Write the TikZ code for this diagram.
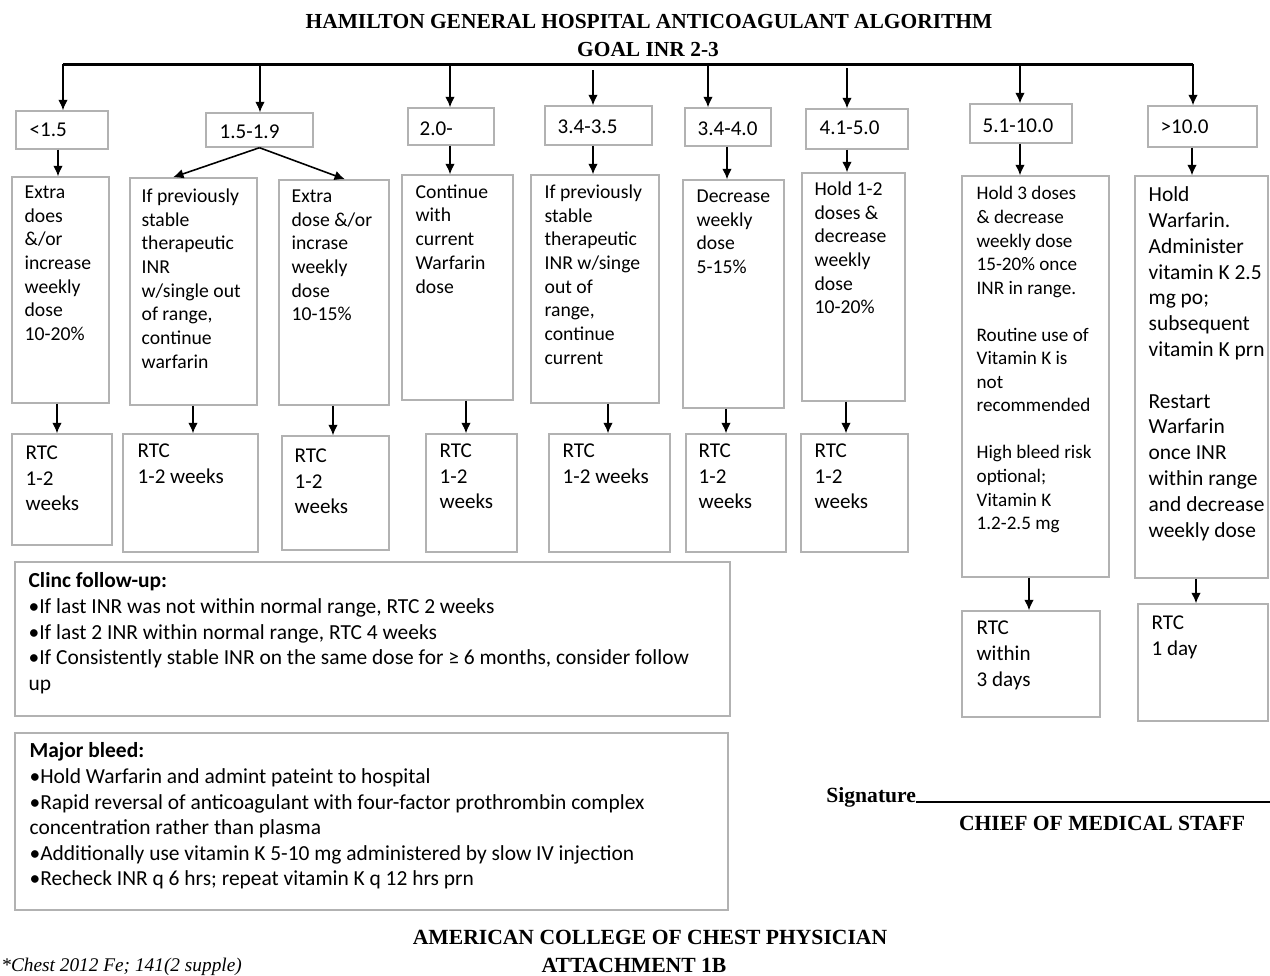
\documentclass[tikz,border=0pt]{standalone}
\usepackage{fontspec}
\setmainfont{Carlito}
\newfontfamily\serifface{Liberation Serif}
\usetikzlibrary{arrows.meta,calc,fit}

\tikzset{
  frame/.style={draw=black!30, line width=0.8pt, inner sep=0pt},
  txt/.style={anchor=north west, inner sep=0pt, align=left, font=\fontsize{11.2}{13.5}\selectfont},
  small/.style={txt, font=\fontsize{10.9}{13.4}\selectfont},
  big/.style={txt, font=\fontsize{12.2}{14.7}\selectfont},
  rtc/.style={txt, font=\fontsize{12}{14.7}\selectfont},
  lbl/.style={anchor=west, inner sep=0pt, font=\fontsize{12}{14}\selectfont},
  note/.style={txt, font=\fontsize{12.2}{14.6}\selectfont},
  head/.style={inner sep=0pt, font=\serifface\bfseries\fontsize{12.2}{15}\selectfont},
  foot/.style={head, font=\serifface\bfseries\fontsize{12.3}{14}\selectfont},
  arr/.style={-{Latex[length=6pt,width=5.5pt]}, line width=0.9pt},
  bus/.style={line width=1.7pt},
}

\begin{document}
\begin{tikzpicture}[x=0.02cm, y=-0.02cm]
    \fill[white] (0,0) rectangle (1270,975);
    \useasboundingbox (0,0) rectangle (1270,975);

    % title
    \node[head] (title) at (649,22) {HAMILTON GENERAL HOSPITAL ANTICOAGULANT ALGORITHM};
    \node[head] (goal) at (648,50) {GOAL INR 2-3};

    % INR ranges
    \node[frame, fit={(16,111) (108,149)}] (h1) {};
    \node[frame, fit={(206,113) (313,147)}] (h2) {};
    \node[frame, fit={(408,108) (494,145)}] (h3) {};
    \node[frame, fit={(545,106) (652,145)}] (h4) {};
    \node[frame, fit={(685,108) (771,146)}] (h5) {};
    \node[frame, fit={(806,109) (908,149)}] (h6) {};
    \node[frame, fit={(970,104) (1072,143)}] (h7) {};
    \node[frame, fit={(1148,106) (1257,147)}] (h8) {};
    \node[lbl] at ($(h1.west)+(14,0)$) {<1.5};
    \node[lbl] at ($(h2.west)+(14,2)$) {1.5-1.9};
    \node[lbl] at ($(h3.west)+(12,2)$) {2.0-};
    \node[lbl] at ($(h4.west)+(13,1)$) {3.4-3.5};
    \node[lbl] at ($(h5.west)+(13,2)$) {3.4-4.0};
    \node[lbl] at ($(h6.west)+(14,-1)$) {4.1-5.0};
    \node[lbl] at ($(h7.west)+(13,2)$) {5.1-10.0};
    \node[lbl] at ($(h8.west)+(13,0)$) {>10.0};

    % actions
    \node[frame, fit={(12,177) (109,403)}] (a1) {};
    \node[frame, fit={(130,178) (257,405)}] (a2) {};
    \node[frame, fit={(279,180) (389,405)}] (a3) {};
    \node[frame, fit={(402,175) (513,400)}] (a4) {};
    \node[frame, fit={(531,175) (659,403)}] (a5) {};
    \node[frame, fit={(683,180) (784,408)}] (a6) {};
    \node[frame, fit={(802,173) (905,401)}] (a7) {};
    \node[frame, fit={(962,176) (1109,577)}] (a8) {};
    \node[frame, fit={(1135,176) (1268,578)}] (a9) {};
    \node[txt] at ($(a1.north west)+(13,9)$) {Extra\\does\\\&/or\\increase\\weekly\\dose\\10-20\%};
    \node[txt] at ($(a2.north west)+(12,11)$) {If previously\\stable\\therapeutic\\INR\\w/single out\\of range,\\continue\\warfarin};
    \node[txt] at ($(a3.north west)+(13,10)$) {Extra\\dose \&/or\\incrase\\weekly\\dose\\10-15\%};
    \node[txt] at ($(a4.north west)+(14,10)$) {Continue\\with\\current\\Warfarin\\dose};
    \node[txt] at ($(a5.north west)+(14,10)$) {If previously\\stable\\therapeutic\\INR w/singe\\out of\\range,\\continue\\current};
    \node[txt] at ($(a6.north west)+(14,10)$) {Decrease\\weekly\\dose\\5-15\%};
    \node[txt] at ($(a7.north west)+(13,9)$) {Hold 1-2\\doses \&\\decrease\\weekly\\dose\\10-20\%};
    \node[small] at ($(a8.north west)+(15,11)$) {Hold 3 doses\\\& decrease\\weekly dose\\15-20\% once\\INR in range.\\[\baselineskip]Routine use of\\Vitamin K is\\not\\recommended\\[\baselineskip]High bleed risk\\optional;\\Vitamin K\\1.2-2.5 mg};
    \node[big] at ($(a9.north west)+(14,11)$) {Hold\\Warfarin.\\Administer\\vitamin K 2.5\\mg po;\\subsequent\\vitamin K prn\\[\baselineskip]Restart\\Warfarin\\once INR\\within range\\and decrease\\weekly dose};

    % return to clinic
    \node[frame, fit={(12,434) (112,545)}] (r1) {};
    \node[frame, fit={(123,434) (258,552)}] (r2) {};
    \node[frame, fit={(282,436) (389,550)}] (r3) {};
    \node[frame, fit={(426,434) (517,552)}] (r4) {};
    \node[frame, fit={(549,434) (670,552)}] (r5) {};
    \node[frame, fit={(686,434) (786,552)}] (r6) {};
    \node[frame, fit={(801,434) (908,552)}] (r7) {};
    \node[frame, fit={(962,611) (1100,717)}] (r8) {};
    \node[frame, fit={(1138,604) (1268,721)}] (r9) {};
    \node[rtc] at ($(r1.north west)+(14,12)$) {RTC\\1-2\\weeks};
    \node[rtc] at ($(r2.north west)+(15,10)$) {RTC\\1-2 weeks};
    \node[rtc] at ($(r3.north west)+(13,13)$) {RTC\\1-2\\weeks};
    \node[rtc] at ($(r4.north west)+(14,10)$) {RTC\\1-2\\weeks};
    \node[rtc] at ($(r5.north west)+(14,10)$) {RTC\\1-2 weeks};
    \node[rtc] at ($(r6.north west)+(13,10)$) {RTC\\1-2\\weeks};
    \node[rtc] at ($(r7.north west)+(14,10)$) {RTC\\1-2\\weeks};
    \node[rtc] at ($(r8.north west)+(15,10)$) {RTC\\within\\3 days};
    \node[rtc] at ($(r9.north west)+(14,12)$) {RTC\\1 day};

    % notes
    \node[frame, fit={(15,562) (730,716)}] (clinic) {};
    \node[note] at ($(clinic.north west)+(14,11)$) {\textbf{Clinc follow-up:}\\•If last INR was not within normal range, RTC 2 weeks\\•If last 2 INR within normal range, RTC 4 weeks\\•If Consistently stable INR on the same dose for ≥ 6 months, consider follow\\up};
    \node[frame, fit={(15,733) (728,910)}] (bleed) {};
    \node[note] at ($(bleed.north west)+(15,10)$) {\textbf{Major bleed:}\\•Hold Warfarin and admint pateint to hospital\\•Rapid reversal of anticoagulant with four-factor prothrombin complex\\concentration rather than plasma\\•Additionally use vitamin K 5-10 mg administered by slow IV injection\\•Recheck INR q 6 hrs; repeat vitamin K q 12 hrs prn};

    % bus and drops
    \coordinate (busL) at (63,64);
    \coordinate (busR) at (1193,64);
    \draw[bus] (busL) -- (busR);
    \draw[arr] (busL) -- (h1.north -| busL);
    \draw[arr] (busL -| 260,0) -- (h2.north -| 260,0);
    \draw[arr] (busL -| 450,0) -- (h3.north -| 450,0);
    \draw[arr] ($(busL -| 593,0)+(0,6)$) -- (h4.north -| 593,0);
    \draw[arr] (busL -| 708,0) -- (h5.north -| 708,0);
    \draw[arr] ($(busL -| 847,0)+(0,4)$) -- (h6.north -| 847,0);
    \draw[arr] (busL -| 1020,0) -- (h7.north -| 1020,0);
    \draw[arr] (busR) -- (h8.north -| busR);

    % range -> action
    \draw[arr] (h1.south -| 58,0) -- (a1.north -| 58,0);
    \draw[arr] (h2.south) -- (a2.north -| 173,0);
    \draw[arr] (h2.south) -- (a3.north -| 345,0);
    \draw[arr] (h3.south -| 450,0) -- (a4.north -| 450,0);
    \draw[arr] (h4.south -| 593,0) -- (a5.north -| 593,0);
    \draw[arr] (h5.south -| 727,0) -- (a6.north -| 727,0);
    \draw[arr] (h6.south -| 847,0) -- (a7.north -| 847,0);
    \draw[arr] (h7.south -| 1020,0) -- (a8.north -| 1020,0);
    \draw[arr] (h8.south -| 1192,0) -- (a9.north -| 1192,0);

    % action -> RTC
    \draw[arr] (a1.south -| 57,0) -- (r1.north -| 57,0);
    \draw[arr] (a2.south -| 193,0) -- (r2.north -| 193,0);
    \draw[arr] (a3.south -| 333,0) -- (r3.north -| 333,0);
    \draw[arr] (a4.south -| 466,0) -- (r4.north -| 466,0);
    \draw[arr] (a5.south -| 608,0) -- (r5.north -| 608,0);
    \draw[arr] (a6.south -| 726,0) -- (r6.north -| 726,0);
    \draw[arr] (a7.south -| 846,0) -- (r7.north -| 846,0);
    \draw[arr] (a8.south -| 1029,0) -- (r8.north -| 1029,0);
    \draw[arr] (a9.south -| 1196,0) -- (r9.north -| 1196,0);

    % signature and footer
    \node[foot, anchor=base west] (sig) at (826,802) {Signature};
    \coordinate (sigend) at (1270,802);
    \draw[line width=1pt] (sig.base east) -- (sigend);
    \node[foot] (chief) at (1102,823) {CHIEF OF MEDICAL STAFF};
    \node[foot] (accp) at (650,937) {AMERICAN COLLEGE OF CHEST PHYSICIAN};
    \node[foot] (attach) at (634,965) {ATTACHMENT 1B};
    \node[inner sep=0pt, anchor=base west, font=\serifface\itshape\fontsize{11}{12}\selectfont] (cite) at (1,971) {*Chest 2012 Fe; 141(2 supple)};
\end{tikzpicture}
\end{document}
